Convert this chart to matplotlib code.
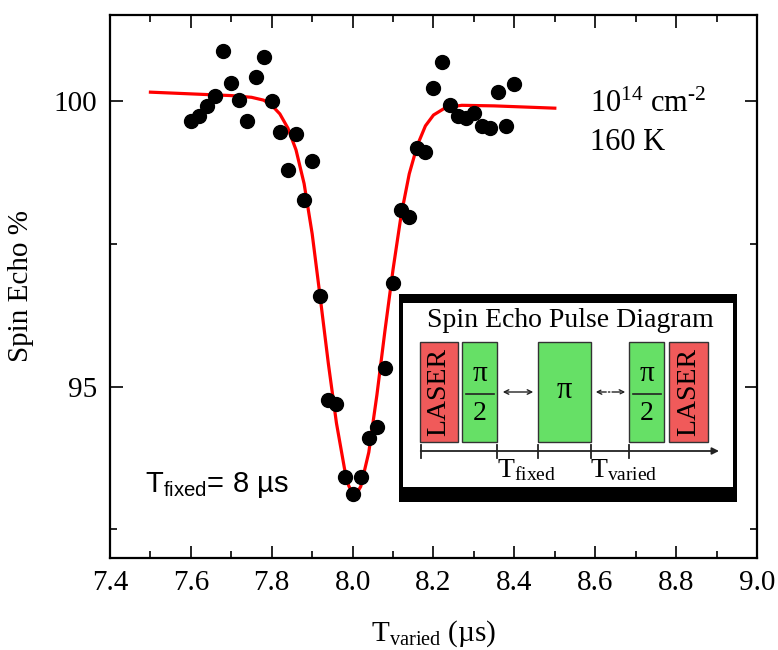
import matplotlib
matplotlib.use('Agg')
import matplotlib.pyplot as plt
from matplotlib.patches import Rectangle, FancyArrowPatch
from matplotlib.ticker import MultipleLocator
import numpy as np

plt.rcParams['font.family'] = ['Liberation Serif', 'DejaVu Serif']
plt.rcParams['mathtext.fontset'] = 'custom'
plt.rcParams['mathtext.rm'] = 'Liberation Serif'
plt.rcParams['mathtext.it'] = 'Liberation Serif:italic'
plt.rcParams['mathtext.sf'] = 'Liberation Sans'

# measured spin echo (points)
t_varied = [7.60, 7.62, 7.64, 7.66, 7.68, 7.70, 7.72, 7.74, 7.76, 7.78,
            7.80, 7.82, 7.84, 7.86, 7.88, 7.90, 7.92, 7.94, 7.96, 7.98,
            8.00, 8.02, 8.04, 8.06, 8.08, 8.10, 8.12, 8.14, 8.16, 8.18,
            8.20, 8.22, 8.24, 8.26, 8.28, 8.30, 8.32, 8.34, 8.36, 8.38, 8.40]
echo = [99.65, 99.73, 99.91, 100.08, 100.87, 100.31, 100.01, 99.64, 100.42, 100.76,
        99.99, 99.45, 98.78, 99.41, 98.27, 98.95, 96.59, 94.77, 94.70, 93.41,
        93.12, 93.41, 94.10, 94.29, 95.33, 96.81, 98.08, 97.96, 99.18, 99.11,
        100.22, 100.67, 99.93, 99.74, 99.69, 99.78, 99.56, 99.52, 100.15, 99.55, 100.30]

# fit curve
fit_t = [7.50, 7.60, 7.70, 7.75, 7.78, 7.80, 7.82, 7.84, 7.86, 7.88, 7.90,
         7.92, 7.94, 7.96, 7.98, 7.99, 8.00, 8.01, 8.02, 8.04, 8.06, 8.08,
         8.10, 8.12, 8.14, 8.16, 8.18, 8.20, 8.23, 8.27, 8.35, 8.50]
fit_echo = [100.15, 100.12, 100.09, 100.06, 100.01, 99.92, 99.77, 99.52, 99.14, 98.55, 97.67,
            96.55, 95.40, 94.36, 93.56, 93.27, 93.12, 93.13, 93.25, 93.85, 94.85, 95.98,
            97.05, 98.00, 98.72, 99.22, 99.56, 99.75, 99.88, 99.92, 99.91, 99.87]

W, H = 778, 650
fig = plt.figure(figsize=(W / 100, H / 100), dpi=100)
ax = fig.add_axes([110 / W, 1 - 558 / H, 647 / W, 543 / H])

ax.plot(fit_t, fit_echo, color='#ff0000', lw=2.3, zorder=2)
ax.plot(t_varied, echo, 'o', color='black', ms=10, zorder=3)

ax.set_xlim(7.4, 9.0)
ax.set_ylim(92.0, 101.5)
ax.xaxis.set_major_locator(MultipleLocator(0.2))
ax.xaxis.set_minor_locator(MultipleLocator(0.1))
ax.yaxis.set_major_locator(MultipleLocator(5))
ax.yaxis.set_minor_locator(MultipleLocator(2.5))
ax.xaxis.set_major_formatter(plt.FormatStrFormatter('%.1f'))
ax.tick_params(which='both', direction='in', top=True, right=True, width=1.2,
               labelsize=21)
ax.tick_params(which='major', length=9)
ax.tick_params(which='minor', length=5)
ax.tick_params(axis='x', pad=9)
ax.tick_params(axis='y', pad=9)
for s in ax.spines.values():
    s.set_linewidth(1.6)

ax.set_xlabel(r'$\mathrm{T_{varied}}$ (µs)', fontsize=21, labelpad=16)
ax.set_ylabel('Spin Echo %', fontsize=21, labelpad=14)

ax.text(0.742, 0.822, r'$\mathrm{10^{14}\ cm^{\text{-}2}}$', transform=ax.transAxes,
        fontsize=22, va='baseline')
ax.text(0.742, 0.751, '160 K', transform=ax.transAxes, fontsize=22, va='baseline')
ax.text(0.054, 0.122, r'$\mathsf{T_{fixed}}$= 8 µs', transform=ax.transAxes,
        fontsize=21, va='baseline', family='Liberation Sans')

# pulse diagram inset (local pixel layout)
ins = fig.add_axes([399 / W, 1 - 502 / H, 338 / W, 208 / H])
ins.set_xlim(0, 338)
ins.set_ylim(208, 0)
ins.set_facecolor('black')
ins.set_xticks([])
ins.set_yticks([])
for s in ins.spines.values():
    s.set_visible(False)
ins.add_patch(Rectangle((4, 9), 330, 184, facecolor='white', edgecolor='none'))

red = '#f05a5a'
green = '#66e066'
boxes = [(21, 38, red), (63, 35, green), (139, 53, green), (230, 35, green), (270, 39, red)]
for x0, w, c in boxes:
    ins.add_patch(Rectangle((x0, 48), w, 100, facecolor=c, edgecolor='#333333', lw=1.0))

ins.text(171, 33, 'Spin Echo Pulse Diagram', ha='center', va='baseline', fontsize=20)
for xc in (40, 289.5):
    ins.text(xc, 98, 'LASER', rotation=90, ha='center', va='center', fontsize=20)
for xc in (80.5, 247.5):
    ins.text(xc, 80, 'π', ha='center', va='center', fontsize=21)
    ins.plot([xc - 14, xc + 14], [100, 100], color='#222222', lw=1.2)
    ins.text(xc, 119, '2', ha='center', va='center', fontsize=20)
ins.text(165.5, 97, 'π', ha='center', va='center', fontsize=22)

ins.add_patch(FancyArrowPatch((101, 98), (137, 98), arrowstyle='<->', mutation_scale=8,
                              color='#222222', lw=1.0))
ins.add_patch(FancyArrowPatch((194, 98), (229, 98), arrowstyle='<->', mutation_scale=8,
                              color='#222222', lw=1.0, linestyle='-.'))

ins.add_patch(FancyArrowPatch((21.7, 157), (320, 157), arrowstyle='-|>', mutation_scale=10,
                              color='#222222', lw=1.3, shrinkA=0, shrinkB=0))
for xt in (21.7, 97.7, 138.7, 191.7, 230.3):
    ins.plot([xt, xt], [150.5, 163.5], color='#222222', lw=1.3)

ins.text(98, 183, r'$\mathrm{T_{fixed}}$', ha='left', va='baseline', fontsize=20)
ins.text(191, 183, r'$\mathrm{T_{varied}}$', ha='left', va='baseline', fontsize=20)

fig.savefig('out.png', dpi=100)
